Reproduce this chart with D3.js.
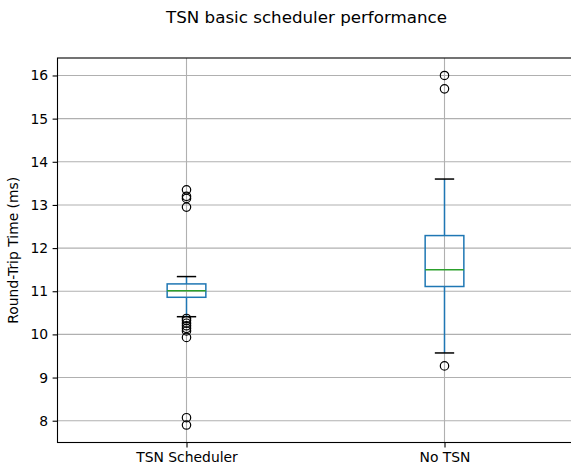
<!DOCTYPE html>
<html>
<head>
<meta charset="utf-8">
<script src="https://cdn.jsdelivr.net/npm/d3@7"></script>
<style>
  body { margin: 0; background: #fff; }
  svg { display: block; font-family: "DejaVu Sans", sans-serif; }
</style>
</head>
<body>
<div id="chart"></div>
<script>
// box statistics (ms)
const categories = ['TSN Scheduler', 'No TSN'];
const q1 = [10.86, 11.11];
const medians = [11.01, 11.5];
const q3 = [11.17, 12.29];
const whiskerLow = [10.41, 9.57];
const whiskerHigh = [11.34, 13.6];
const outliers = [
  [13.35, 13.2, 13.15, 12.95, 10.37, 10.32, 10.26, 10.2, 10.14, 10.08, 9.93, 8.07, 7.9],
  [16.0, 15.69, 9.27],
];
const yTicks = [8, 9, 10, 11, 12, 13, 14, 15, 16];

const width = 571;
const height = 471;
const margin = { top: 58, right: -2.5, bottom: 28.5, left: 57.5 };

const svg = d3.select('#chart')
  .append('svg')
  .attr('width', width)
  .attr('height', height);

const x = d3.scaleBand()
  .domain(categories)
  .range([margin.left, width - margin.right])
  .padding(0);

const y = d3.scaleLinear()
  .domain([7.495, 16.405])
  .range([height - margin.bottom, margin.top]);

const boxW = x.bandwidth() * 0.15;
const cx = (c) => x(c) + x.bandwidth() / 2;

// grid
const grid = svg.append('g').attr('stroke', '#b0b0b0').attr('stroke-width', 1.1);
grid.selectAll('line.h')
  .data(yTicks)
  .enter()
  .append('line')
  .attr('x1', margin.left)
  .attr('x2', width - margin.right)
  .attr('y1', (d) => y(d))
  .attr('y2', (d) => y(d));
grid.selectAll('line.v')
  .data(categories)
  .enter()
  .append('line')
  .attr('x1', (d) => cx(d))
  .attr('x2', (d) => cx(d))
  .attr('y1', margin.top)
  .attr('y2', height - margin.bottom);

// axes
const yAxis = d3.axisLeft(y).tickValues(yTicks).tickSize(4.9).tickPadding(4.5);
const yG = svg.append('g')
  .attr('transform', `translate(${margin.left},0)`)
  .call(yAxis);

const xAxis = d3.axisBottom(d3.scalePoint().domain(categories).range([cx(categories[0]), cx(categories[1])]))
  .tickSize(4.9).tickPadding(4.5);
const xG = svg.append('g')
  .attr('transform', `translate(0,${height - margin.bottom})`)
  .call(xAxis);

[yG, xG].forEach((g) => {
  g.select('.domain').remove();
  g.selectAll('.tick line').attr('stroke', '#000').attr('stroke-width', 1.1);
  g.selectAll('.tick text')
    .attr('fill', '#000')
    .style('font-size', '13.9px')
    .style('font-family', '"DejaVu Sans", sans-serif');
});

// frame (right spine falls just outside the picture)
svg.append('rect')
  .attr('x', margin.left)
  .attr('y', margin.top)
  .attr('width', width - margin.right - margin.left)
  .attr('height', height - margin.bottom - margin.top)
  .attr('fill', 'none')
  .attr('stroke', '#000')
  .attr('stroke-width', 1.1);

// boxes
const data = categories.map((c, i) => ({
  key: c,
  q1: q1[i],
  med: medians[i],
  q3: q3[i],
  lo: whiskerLow[i],
  hi: whiskerHigh[i],
  out: outliers[i],
}));

const boxes = svg.selectAll('g.box')
  .data(data)
  .enter()
  .append('g')
  .attr('class', 'box');

boxes.append('line')
  .attr('x1', (d) => cx(d.key))
  .attr('x2', (d) => cx(d.key))
  .attr('y1', (d) => y(d.lo))
  .attr('y2', (d) => y(d.q1))
  .attr('stroke', '#1f77b4')
  .attr('stroke-width', 1.5);
boxes.append('line')
  .attr('x1', (d) => cx(d.key))
  .attr('x2', (d) => cx(d.key))
  .attr('y1', (d) => y(d.q3))
  .attr('y2', (d) => y(d.hi))
  .attr('stroke', '#1f77b4')
  .attr('stroke-width', 1.5);

boxes.append('rect')
  .attr('x', (d) => cx(d.key) - boxW / 2)
  .attr('width', boxW)
  .attr('y', (d) => y(d.q3))
  .attr('height', (d) => y(d.q1) - y(d.q3))
  .attr('fill', 'none')
  .attr('stroke', '#1f77b4')
  .attr('stroke-width', 1.5);

boxes.append('line')
  .attr('x1', (d) => cx(d.key) - boxW / 2)
  .attr('x2', (d) => cx(d.key) + boxW / 2)
  .attr('y1', (d) => y(d.med))
  .attr('y2', (d) => y(d.med))
  .attr('stroke', '#2ca02c')
  .attr('stroke-width', 1.5);

// caps
['lo', 'hi'].forEach((k) => {
  boxes.append('line')
    .attr('x1', (d) => cx(d.key) - boxW / 4)
    .attr('x2', (d) => cx(d.key) + boxW / 4)
    .attr('y1', (d) => y(d[k]))
    .attr('y2', (d) => y(d[k]))
    .attr('stroke', '#000')
    .attr('stroke-width', 1.5);
});

// fliers
boxes.selectAll('circle')
  .data((d) => d.out.map((v) => ({ key: d.key, v })))
  .enter()
  .append('circle')
  .attr('cx', (d) => cx(d.key))
  .attr('cy', (d) => y(d.v))
  .attr('r', 4.2)
  .attr('fill', 'none')
  .attr('stroke', '#000')
  .attr('stroke-width', 1.2);

// labels
svg.append('text')
  .attr('x', 306.5)
  .attr('y', 22.5)
  .attr('text-anchor', 'middle')
  .style('font-size', '16.7px')
  .text('TSN basic scheduler performance');

svg.append('text')
  .attr('transform', `translate(17.5,${(margin.top + height - margin.bottom) / 2}) rotate(-90)`)
  .attr('text-anchor', 'middle')
  .style('font-size', '13.9px')
  .text('Round-Trip Time (ms)');
</script>
</body>
</html>
